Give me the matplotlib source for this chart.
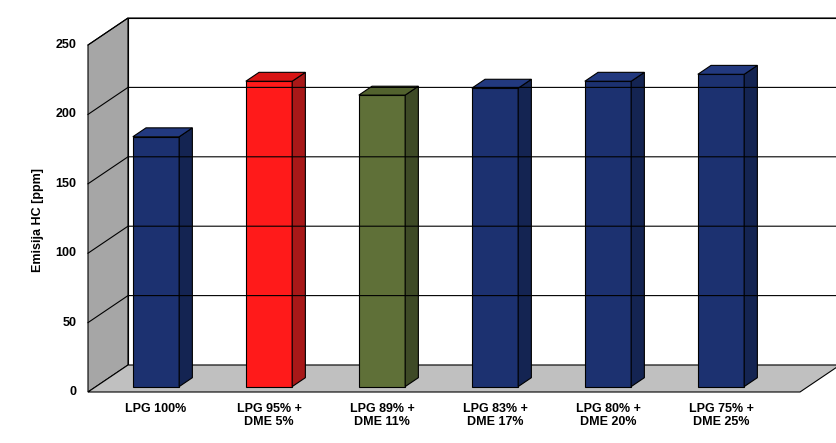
import matplotlib
matplotlib.use("Agg")
import matplotlib.pyplot as plt
from matplotlib.patches import Polygon

categories = ["LPG 100%", "LPG 95% +\nDME 5%", "LPG 89% +\nDME 11%",
              "LPG 83% +\nDME 17%", "LPG 80% +\nDME 20%", "LPG 75% +\nDME 25%"]
values = [180, 220, 210, 215, 220, 225]
yticks = [0, 50, 100, 150, 200, 250]
front_colors = ["#1c3170", "#ff1a1a", "#5f7038", "#1c3170", "#1c3170", "#1c3170"]
side_colors = ["#142452", "#a81818", "#3e4a26", "#142452", "#142452", "#142452"]
top_colors = ["#22397f", "#d81414", "#52622e", "#22397f", "#22397f", "#22397f"]

fig = plt.figure(figsize=(8.36, 4.43), dpi=100)
W, H = 836, 443
x0, x1 = 88, 836
ax = fig.add_axes([x0 / W, (H - 392) / H, (x1 - x0) / W, (392 - 45) / H])
catpx = 113.0
xmin = -(148 - 88) / catpx
ax.set_xlim(xmin, xmin + (x1 - x0) / catpx)
ax.set_ylim(0, 250)
ax.axis("off")

DX = 40 / catpx
DY = 27 / (347 / 250)
xr = xmin + (800 - 88) / catpx
ytop = 250

def P(pts, **kw):
    ax.add_patch(Polygon(pts, closed=True, clip_on=False, **kw))

# left wall
P([(xmin, 0), (xmin + DX, DY), (xmin + DX, ytop + DY), (xmin, ytop)],
  facecolor="#a6a6a6", edgecolor="black", lw=0.8)
# back wall
P([(xmin + DX, DY), (xr + DX, DY), (xr + DX, ytop + DY), (xmin + DX, ytop + DY)],
  facecolor="white", edgecolor="black", lw=0.8)
for t in yticks[1:]:
    ax.plot([xmin, xmin + DX, xr + DX], [t, t + DY, t + DY], color="black", lw=0.8, clip_on=False)
# floor
P([(xmin, 0), (xr, 0), (xr + DX, DY), (xmin + DX, DY)],
  facecolor="#c0c0c0", edgecolor="black", lw=0.8)

bw = 0.41
f0, f1 = 0.2, 0.53
for i, v in enumerate(values):
    l = i - bw / 2 + f0 * DX
    r = i + bw / 2 + f0 * DX
    b = f0 * DY
    dx = (f1 - f0) * DX
    dy = (f1 - f0) * DY
    P([(l, b), (r, b), (r, b + v), (l, b + v)], facecolor=front_colors[i], edgecolor="black", lw=0.8)
    P([(r, b), (r + dx, b + dy), (r + dx, b + v + dy), (r, b + v)], facecolor=side_colors[i], edgecolor="black", lw=0.8)
    P([(l, b + v), (r, b + v), (r + dx, b + v + dy), (l + dx, b + v + dy)], facecolor=top_colors[i], edgecolor="black", lw=0.8)
    ax.text(i + f0 * DX, -8, categories[i], ha="center", va="top", fontsize=9,
            fontweight="bold", family="Liberation Sans", linespacing=1.15)

for t in yticks:
    ax.text(xmin - 0.1, t, str(t), ha="right", va="center", fontsize=9,
            fontweight="bold", family="Liberation Sans")
fig.text(38 / W, 1 - 220 / H, "Emisija HC [ppm]", rotation=90, ha="center", va="center",
         fontsize=9, fontweight="bold", family="Liberation Sans")

fig.savefig("out.png", dpi=100)
